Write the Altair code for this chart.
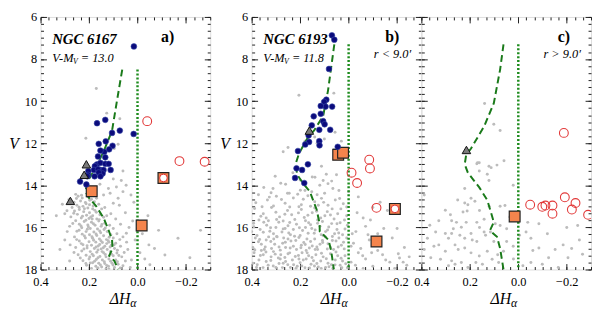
import altair as alt
import pandas as pd

FONT = "'Liberation Serif', 'Times New Roman', Times, serif"
W, H = 172, 256

X_DOMAIN = [-0.3, 0.4]
Y_DOMAIN = [6, 18]
X_LABELS = [0.4, 0.2, 0.0, -0.2]
Y_LABELS = [6, 8, 10, 12, 14, 16, 18]
X_MINOR = [round(-0.3 + i / 30, 4) for i in range(22)]
Y_MINOR = [round(6 + i / 3, 4) for i in range(37)]

# ---------------- Panel a (NGC 6167) ----------------
grey_a = [
    (0.17, 9.4), (0.127, 10.57), (0.073, 10.84), (0.096, 12.25), (0.213, 11.76), (0.08, 12.05),
    (0.06, 13.32), (0.1, 13.7), (0.067, 13.77), (0.047, 14.0), (0.087, 14.08), (0.12, 14.15),
    (0.06, 14.3), (0.113, 14.38), (0.14, 14.46), (0.027, 14.46), (0.08, 14.61), (0.155, 13.95),
    (0.245, 14.52), (0.228, 14.6), (0.205, 14.55), (0.19, 14.66), (0.235, 14.75), (0.262, 14.8),
    (0.215, 14.82), (0.178, 14.78), (0.198, 14.92), (0.25, 14.95), (0.225, 15.0), (0.16, 14.9),
    (0.27, 15.05), (0.205, 15.08), (0.185, 15.12), (0.24, 15.15), (0.135, 15.05), (0.1, 14.85),
    (0.075, 14.95), (0.26, 15.22), (0.222, 15.25), (0.198, 15.3), (0.17, 15.28), (0.248, 15.38),
    (0.21, 15.42), (0.185, 15.45), (0.155, 15.4), (0.275, 15.5), (0.232, 15.55), (0.2, 15.58),
    (0.168, 15.6), (0.14, 15.52), (0.11, 15.35), (0.09, 15.6), (0.3, 15.35), (0.05, 15.3),
    (0.255, 15.68), (0.22, 15.72), (0.19, 15.75), (0.16, 15.7), (0.135, 15.8), (0.24, 15.85),
    (0.205, 15.88), (0.175, 15.9), (0.15, 15.95), (0.115, 15.9), (0.28, 15.95), (0.23, 16.02),
    (0.195, 16.05), (0.165, 16.08), (0.138, 16.1), (0.1, 16.05), (0.07, 15.85), (0.035, 16.0),
    (0.25, 16.18), (0.212, 16.2), (0.18, 16.22), (0.152, 16.25), (0.125, 16.2), (0.228, 16.32),
    (0.198, 16.35), (0.168, 16.38), (0.14, 16.4), (0.11, 16.35), (0.085, 16.3), (0.26, 16.45),
    (0.215, 16.5), (0.185, 16.52), (0.157, 16.55), (0.128, 16.58), (0.1, 16.5), (0.06, 16.45),
    (0.3, 16.6), (0.24, 16.65), (0.2, 16.68), (0.172, 16.7), (0.145, 16.72), (0.118, 16.7),
    (0.09, 16.75), (0.225, 16.82), (0.19, 16.85), (0.162, 16.88), (0.135, 16.9), (0.108, 16.85),
    (0.255, 16.95), (0.208, 16.98), (0.178, 17.0), (0.15, 17.02), (0.125, 17.05), (0.095, 17.0),
    (0.07, 16.9), (0.04, 17.05), (0.23, 17.12), (0.195, 17.15), (0.168, 17.18), (0.14, 17.2),
    (0.112, 17.15), (0.085, 17.22), (0.245, 17.3), (0.212, 17.32), (0.182, 17.35), (0.155, 17.38),
    (0.13, 17.4), (0.1, 17.35), (0.065, 17.4), (0.2, 17.5), (0.17, 17.52), (0.145, 17.55),
    (0.118, 17.5), (0.09, 17.55), (0.225, 17.58), (0.05, 17.6), (0.185, 17.68), (0.16, 17.7),
    (0.135, 17.72), (0.105, 17.7), (0.08, 17.75), (0.21, 17.8), (0.172, 17.85), (0.148, 17.88),
    (0.12, 17.85), (0.095, 17.9), (0.06, 17.82), (0.19, 17.95), (0.13, 17.97), (0.03, 17.9),
    (0.32, 17.05), (0.29, 16.2), (0.335, 15.45), (0.31, 14.9), (0.28, 17.6), (-0.043, 15.45),
    (-0.087, 16.14), (-0.167, 16.52), (-0.26, 16.14), (-0.113, 17.31), (-0.216, 17.44),
    (-0.047, 16.83), (-0.051, 17.77), (0.01, 16.6), (-0.01, 17.2), (0.02, 15.7), (-0.02, 16.3),
    (0.015, 14.8), (-0.03, 17.5), (0.045, 16.7), (0.025, 17.55), (-0.07, 17.0),
    (0.231, 14.47), (0.197, 14.71), (0.252, 14.63), (0.183, 14.98), (0.219, 15.11), (0.263, 15.33),
    (0.176, 15.19), (0.241, 15.04), (0.193, 15.51), (0.227, 15.47), (0.158, 15.63), (0.267, 15.81),
    (0.213, 15.66), (0.182, 15.83), (0.147, 15.86), (0.241, 16.13), (0.203, 15.97), (0.171, 16.31),
    (0.133, 16.03), (0.219, 16.41), (0.188, 16.44), (0.151, 16.63), (0.117, 16.47), (0.232, 16.77),
    (0.181, 16.61), (0.156, 16.81), (0.127, 16.77), (0.208, 16.87), (0.171, 16.93), (0.141, 16.97),
    (0.113, 16.93), (0.083, 17.09), (0.221, 17.03), (0.187, 17.27), (0.163, 17.07), (0.133, 17.29),
    (0.107, 17.27), (0.077, 17.33), (0.197, 17.41), (0.163, 17.44), (0.137, 17.63), (0.111, 17.61),
    (0.083, 17.63), (0.213, 17.71), (0.177, 17.61), (0.153, 17.79), (0.127, 17.81), (0.101, 17.79),
    (0.071, 17.93), (0.163, 17.93), (0.233, 15.93), (0.251, 16.58), (0.278, 16.83), (0.262, 17.19),
    (0.236, 17.45), (0.291, 15.21), (0.148, 15.12), (0.127, 15.45), (0.121, 16.63), (0.097, 16.83),
    (0.146, 17.15), (0.195, 17.69), (0.055, 17.19), (0.046, 16.28), (0.073, 16.58), (0.212, 14.88),
    (0.169, 14.62), (0.283, 14.68), (0.255, 14.43), (0.207, 16.09), (0.156, 16.17), (0.187, 15.6),
    (0.118, 17.98),
]
blue_a = [
    (0.015, 7.4), (0.167, 11.05), (0.133, 10.89), (0.073, 11.4), (0.016, 11.56), (0.105, 11.51),
    (0.16, 12.03), (0.131, 11.91), (0.103, 12.12), (0.117, 12.29), (0.137, 12.41), (0.153, 12.35),
    (0.163, 12.63), (0.133, 12.67), (0.167, 13.01), (0.153, 12.93), (0.133, 12.98), (0.119, 12.98),
    (0.176, 13.09), (0.111, 13.27), (0.153, 13.27), (0.14, 13.27), (0.18, 13.27), (0.203, 13.32),
    (0.163, 13.24), (0.144, 13.44), (0.16, 13.39), (0.177, 13.57), (0.204, 13.5), (0.207, 13.57),
    (0.153, 13.57), (0.237, 13.82), (0.211, 13.96),
]
tri_a = [(0.211, 13.0), (0.22, 13.5), (0.277, 14.74)]
sq_a = [(0.189, 14.28), (-0.017, 15.91), (-0.107, 13.65)]
sqc_a = [(-0.107, 13.65)]
circ_a = [(-0.04, 10.95), (-0.173, 12.85), (-0.277, 12.88)]
line_a = [
    (0.063, 8.5), (0.085, 10.0), (0.105, 11.4), (0.14, 12.4), (0.17, 13.1), (0.205, 13.8),
    (0.215, 14.3), (0.2, 14.6), (0.17, 15.0), (0.14, 15.55), (0.12, 16.1), (0.105, 16.6),
    (0.103, 17.0), (0.117, 17.35), (0.095, 17.6), (0.08, 18.0),
]
dot_a = [(0.0, 8.5), (0.0, 18.0)]

# ---------------- Panel b (NGC 6193, r < 9') ----------------
grey_b = [
    (0.205, 9.72), (0.061, 9.62), (0.056, 11.48), (0.14, 11.7), (0.18, 11.9), (0.13, 12.0),
    (0.1, 11.8), (0.06, 12.3), (0.25, 12.2), (0.27, 12.4), (0.03, 11.9), (0.303, 13.57),
    (0.312, 14.15), (0.112, 13.09), (0.092, 13.47), (0.139, 13.62), (0.105, 13.77), (0.085, 13.92),
    (0.119, 14.0), (0.065, 14.15), (0.152, 14.3), (0.099, 14.38), (0.199, 14.23), (0.252, 14.38),
    (0.23, 13.4), (0.28, 13.9), (0.05, 13.5), (0.15, 13.6), (0.07, 13.8),
    (0.372, 14.45), (0.335, 14.7), (0.298, 14.52), (0.262, 14.85), (0.228, 14.6), (0.195, 14.92),
    (0.168, 14.5), (0.14, 14.78), (0.112, 14.62), (0.085, 14.95), (0.055, 14.7), (0.022, 14.88),
    (0.31, 14.98), (0.21, 14.42), (0.125, 14.95), (-0.04, 14.55), (-0.13, 14.8), (0.245, 14.38),
    (0.388, 15.1), (0.352, 15.35), (0.318, 15.05), (0.285, 15.5), (0.252, 15.2), (0.222, 15.62),
    (0.195, 15.15), (0.168, 15.42), (0.14, 15.08), (0.115, 15.55), (0.088, 15.25), (0.06, 15.6),
    (0.032, 15.12), (0.008, 15.45), (-0.035, 15.3), (-0.09, 15.65), (-0.16, 15.2), (0.37, 15.65),
    (0.3, 15.28), (0.235, 15.4), (0.178, 15.68), (0.15, 15.3), (0.098, 15.45), (0.045, 15.35),
    (0.27, 15.7), (0.205, 15.02), (0.128, 15.65), (0.34, 15.55),
    (0.392, 15.8), (0.365, 16.1), (0.338, 15.9), (0.31, 16.3), (0.288, 15.75), (0.262, 16.05),
    (0.24, 16.35), (0.215, 15.85), (0.19, 16.15), (0.165, 15.78), (0.142, 16.28), (0.118, 15.95),
    (0.095, 16.2), (0.07, 15.82), (0.048, 16.1), (0.025, 16.35), (0.005, 15.9), (-0.03, 16.2),
    (-0.07, 15.95), (-0.12, 16.3), (-0.2, 16.05), (0.378, 16.38), (0.325, 16.18), (0.275, 16.22),
    (0.25, 15.92), (0.2, 16.38), (0.178, 16.0), (0.152, 16.05), (0.105, 16.38), (0.082, 15.98),
    (0.058, 16.3), (0.35, 15.75), (0.228, 16.1), (0.128, 15.8), (0.035, 15.78), (0.3, 16.0),
    (-0.015, 16.3), (0.4, 16.2),
    (0.385, 16.5), (0.36, 16.8), (0.34, 16.6), (0.318, 17.0), (0.295, 16.45), (0.272, 16.75),
    (0.25, 16.55), (0.228, 16.9), (0.205, 16.48), (0.185, 16.72), (0.162, 16.98), (0.14, 16.55),
    (0.118, 16.8), (0.096, 16.45), (0.075, 16.95), (0.052, 16.65), (0.03, 16.85), (0.008, 16.5),
    (-0.02, 16.75), (-0.05, 17.0), (-0.085, 16.6), (-0.13, 16.85), (-0.18, 16.5), (-0.23, 16.95),
    (0.395, 16.95), (0.348, 17.05), (0.305, 16.8), (0.282, 17.08), (0.26, 16.95), (0.238, 16.65),
    (0.215, 17.05), (0.195, 16.85), (0.172, 16.55), (0.15, 16.88), (0.128, 17.05), (0.108, 16.62),
    (0.085, 16.78), (0.062, 17.05), (0.04, 16.5), (0.018, 17.02), (0.372, 16.68), (0.33, 16.45),
    (0.268, 16.5), (0.175, 17.1), (-0.01, 16.9),
    (0.39, 17.2), (0.37, 17.55), (0.352, 17.3), (0.332, 17.8), (0.31, 17.15), (0.29, 17.45),
    (0.27, 17.7), (0.25, 17.25), (0.232, 17.55), (0.212, 17.85), (0.192, 17.2), (0.175, 17.5),
    (0.155, 17.75), (0.135, 17.3), (0.115, 17.6), (0.095, 17.9), (0.075, 17.25), (0.055, 17.55),
    (0.035, 17.8), (0.015, 17.35), (-0.01, 17.65), (-0.04, 17.2), (-0.07, 17.5), (-0.1, 17.85),
    (-0.14, 17.3), (-0.17, 17.65), (-0.21, 17.45), (-0.24, 17.8), (0.38, 17.9), (0.36, 17.1),
    (0.34, 17.62), (0.32, 17.4), (0.3, 17.9), (0.28, 17.3), (0.26, 17.62), (0.24, 17.9),
    (0.22, 17.38), (0.2, 17.68), (0.18, 17.92), (0.165, 17.35), (0.145, 17.58), (0.125, 17.88),
    (0.105, 17.4), (0.085, 17.7), (0.065, 17.95), (0.045, 17.35), (0.025, 17.6), (0.005, 17.92),
    (0.395, 17.7), (0.282, 17.5), (0.205, 17.5), (0.138, 17.05), (-0.06, 17.95), (-0.12, 17.1),
    (-0.19, 17.95),
    (0.383, 14.83), (0.357, 15.02), (0.327, 14.56), (0.277, 14.67), (0.243, 15.03), (0.187, 14.66),
    (0.157, 14.99), (0.103, 14.81), (0.068, 15.12), (0.037, 14.63), (0.008, 15.03), (0.362, 15.47),
    (0.331, 15.68), (0.297, 15.62), (0.263, 15.37), (0.243, 15.77), (0.207, 15.31), (0.183, 15.53),
    (0.157, 15.87), (0.132, 15.23), (0.108, 15.72), (0.075, 15.41), (0.048, 15.83), (0.017, 15.65),
    (0.391, 15.97), (0.352, 16.23), (0.322, 16.02), (0.297, 16.43), (0.27, 16.07), (0.247, 16.27),
    (0.223, 16.42), (0.203, 16.02), (0.167, 16.28), (0.138, 16.12), (0.113, 16.35), (0.087, 16.12),
    (0.067, 16.43), (0.041, 16.27), (0.015, 16.08), (0.367, 16.57), (0.344, 16.93), (0.321, 16.67),
    (0.309, 16.55), (0.287, 16.93), (0.261, 16.71), (0.241, 16.98), (0.218, 16.62), (0.197, 16.97),
    (0.179, 16.81), (0.157, 16.67), (0.131, 16.93), (0.107, 16.72), (0.088, 17.03), (0.067, 16.62),
    (0.043, 16.93), (0.021, 16.71), (0.387, 17.07), (0.364, 17.33), (0.341, 17.17), (0.321, 17.57),
    (0.303, 17.27), (0.287, 17.71), (0.263, 17.43), (0.243, 17.21), (0.227, 17.77), (0.207, 17.33),
    (0.187, 17.55), (0.171, 17.21), (0.151, 17.43), (0.131, 17.71), (0.112, 17.23), (0.092, 17.49),
    (0.071, 17.77), (0.052, 17.17), (0.031, 17.47), (0.012, 17.73), (0.377, 17.77), (0.353, 17.91),
    (0.311, 17.83), (0.273, 17.91), (0.251, 17.77), (0.217, 17.95), (0.193, 17.83), (0.161, 17.93),
    (0.141, 17.83), (0.113, 17.95), (0.081, 17.87), (0.056, 17.78), (0.028, 17.92), (-0.028, 17.8),
    (-0.058, 17.35), (-0.095, 17.2), (-0.153, 17.55), (-0.205, 17.25), (-0.225, 17.65), (-0.08, 16.35),
    (-0.145, 16.05), (-0.06, 15.55), (-0.1, 15.05), (-0.25, 17.4), (0.32, 14.35), (0.18, 14.25),
    (0.26, 13.95), (0.13, 14.45), (0.04, 14.25), (0.35, 14.1), (0.2, 13.75), (0.0, 14.3),
]
blue_b = [
    (0.069, 6.87), (0.059, 7.08), (0.081, 8.47), (0.092, 9.93), (0.101, 10.03), (0.095, 10.26),
    (0.115, 10.23), (0.068, 10.26), (0.115, 10.6), (0.144, 10.72), (0.105, 10.95), (0.099, 11.1),
    (0.076, 11.36), (0.152, 11.15), (0.121, 11.36), (0.165, 11.63), (0.163, 11.94), (0.179, 12.06),
    (0.121, 11.9), (0.12, 12.1), (0.209, 12.37), (0.045, 12.17), (0.215, 13.19), (0.192, 13.27),
    (0.168, 13.0), (0.221, 13.65), (0.183, 13.89),
]
tri_b = [(0.162, 11.4)]
sq_b = [(0.043, 12.55), (0.023, 12.45), (-0.115, 16.67), (-0.191, 15.12)]
sqc_b = [(-0.191, 15.12)]
circ_b = [(-0.085, 12.78), (-0.088, 13.2), (-0.012, 13.4), (-0.035, 13.89), (-0.115, 15.07)]
line_b = [
    (0.059, 7.3), (0.085, 9.5), (0.105, 10.7), (0.14, 11.35), (0.172, 11.8), (0.205, 12.5),
    (0.219, 13.0), (0.212, 13.5), (0.185, 13.95), (0.16, 14.3), (0.132, 15.15), (0.12, 15.8),
    (0.119, 16.2), (0.1, 16.4), (0.083, 16.6), (0.072, 17.1), (0.061, 18.0),
]
dot_b = [(0.0, 7.3), (0.0, 18.0)]

# ---------------- Panel c (NGC 6193, r > 9') ----------------
grey_c = [
    (0.139, 10.11), (0.101, 11.1), (0.075, 11.4), (0.168, 12.93), (0.059, 12.83), (0.088, 13.04),
    (0.112, 13.16), (0.128, 13.47), (0.161, 12.93), (0.171, 12.98), (0.121, 13.09), (0.161, 13.32),
    (0.121, 13.77), (0.195, 14.61), (0.221, 14.15), (0.021, 14.0), (0.388, 14.46), (0.221, 14.84),
    (0.208, 14.92), (0.179, 14.76), (0.228, 15.27), (0.211, 15.22), (0.301, 15.18), (0.255, 15.76),
    (0.328, 15.68), (0.171, 15.76), (0.141, 15.61), (0.055, 14.96), (0.075, 14.99), (0.275, 16.29),
    (0.241, 16.37), (0.221, 16.52), (0.288, 16.52), (0.195, 16.29), (0.171, 16.67), (0.141, 16.22),
    (0.348, 16.9), (0.261, 16.83), (0.248, 17.05), (0.221, 16.98), (0.195, 17.21), (0.161, 17.36),
    (0.128, 17.13), (0.361, 17.44), (0.321, 17.51), (0.275, 17.59), (0.235, 17.67), (0.208, 17.9),
    (0.108, 17.51), (0.081, 17.67), (0.048, 16.67), (0.021, 16.9), (-0.005, 16.37), (-0.032, 16.22),
    (-0.052, 16.52), (-0.085, 16.98), (-0.085, 15.83), (-0.125, 17.44), (-0.152, 17.05),
    (-0.185, 16.83), (-0.245, 15.91), (-0.252, 16.6), (-0.265, 17.28), (-0.205, 17.44),
    (-0.165, 17.9), (-0.099, 17.75), (-0.052, 17.67), (-0.019, 17.82), (-0.039, 15.76),
    (0.048, 16.06), (0.075, 15.91), (0.115, 16.22), (0.101, 16.67), (0.061, 17.13), (0.095, 15.83),
    (0.135, 16.37), (0.215, 15.76), (0.235, 15.99), (0.275, 15.68), (0.268, 16.06), (0.301, 16.29),
    (0.341, 16.22), (0.375, 16.52), (0.388, 17.05), (0.301, 17.13), (0.328, 16.83), (0.175, 17.67),
    (0.148, 17.75), (0.261, 17.75), (0.288, 17.82), (0.25, 14.7), (0.28, 15.4), (0.16, 15.2),
    (0.12, 15.0), (0.035, 15.5), (-0.12, 16.3), (-0.2, 16.0), (-0.06, 17.1), (0.16, 16.0),
    (0.02, 17.5), (0.365, 15.9), (0.19, 16.6), (0.085, 17.3), (-0.22, 17.0),
]
blue_c = []
tri_c = [(0.214, 12.32)]
sq_c = [(0.015, 15.48)]
sqc_c = []
circ_c = [
    (-0.049, 14.92), (-0.099, 15.02), (-0.112, 14.96), (-0.141, 14.96), (-0.141, 15.35),
    (-0.192, 14.57), (-0.221, 15.15), (-0.236, 14.84), (-0.288, 15.4), (-0.188, 11.51),
]
line_c = [
    (0.061, 7.3), (0.075, 8.5), (0.101, 10.1), (0.141, 11.2), (0.195, 12.25), (0.215, 12.55),
    (0.221, 13.0), (0.208, 13.4), (0.161, 14.1), (0.128, 14.7), (0.115, 15.2), (0.101, 15.75),
    (0.117, 16.15), (0.088, 16.45), (0.075, 17.0), (0.061, 18.0),
]
dot_c = [(0.0, 7.3), (0.0, 18.0)]

# annotation text
TITLES = ["NGC 6167", "NGC 6193", ""]
DISTS = ["13.0", "11.8", ""]
LABELS = ["a)", "b)", "c)"]
LABEL_X = [-0.124, -0.18, -0.188]
RLABELS = ["", "r <  9.0\u2032", "r >  9.0\u2032"]


def df(pairs):
    return pd.DataFrame(pairs, columns=["x", "y"]) if pairs else pd.DataFrame({"x": [], "y": []})


def ldf(pairs):
    d = df(pairs)
    d["i"] = list(range(len(d)))
    return d


def axis(orient, values, size, labels=False, title=None, fmt=None):
    kw = dict(orient=orient, values=values, tickSize=size, offset=-size, domain=False,
              grid=False, labels=labels, ticks=True, tickColor="#222", tickWidth=1)
    if labels:
        kw.update(labelFont=FONT, labelFontSize=12.5, labelColor="black",
                  labelPadding=6 if orient in ("bottom", "top") else 4,
                  labelFlush=False, labelOverlap=False, format=fmt)
    if title:
        kw.update(title=title, titleAngle=0, titleFont=FONT, titleFontSize=16,
                  titleFontStyle="italic", titleFontWeight="normal", titleColor="black",
                  titlePadding=6, titleBaseline="middle", titleAlign="right")
    else:
        kw["title"] = None
    return alt.Axis(**kw)


xs = alt.Scale(domain=X_DOMAIN, reverse=True, nice=False, zero=False)
ys = alt.Scale(domain=Y_DOMAIN, reverse=True, nice=False, zero=False)


def XY(xa, ya):
    return dict(x=alt.X("x:Q", scale=xs, axis=xa), y=alt.Y("y:Q", scale=ys, axis=ya))


def panel(k, grey, blue, tri, sq, sqc, circ, line, dot, ylabels):
    layers = []
    layers.append(alt.Chart(df(grey)).mark_circle(size=9, color="#bcbcbc", opacity=1, clip=True).encode(
        **XY(axis("bottom", X_LABELS, 6, True, fmt=".1f"),
             axis("left", Y_LABELS, 6, ylabels, "V" if ylabels else None, fmt="d"))))
    layers.append(alt.Chart(ldf(dot)).mark_line(color="#1e8c1e", strokeWidth=2.5, strokeDash=[2, 2], clip=True).encode(
        order="i:Q", **XY(axis("bottom", X_MINOR, 3), axis("left", Y_MINOR, 3))))
    layers.append(alt.Chart(ldf(line)).mark_line(color="#1a7a1a", strokeWidth=2, strokeDash=[7, 4], clip=True).encode(
        order="i:Q", **XY(axis("top", X_LABELS, 6), axis("right", Y_LABELS, 6))))
    layers.append(alt.Chart(df(sq)).mark_square(size=120, color="#f4844c", opacity=1, stroke="#222", strokeWidth=1.2, clip=True).encode(
        **XY(axis("top", X_MINOR, 3), axis("right", Y_MINOR, 3))))
    if blue:
        layers.append(alt.Chart(df(blue)).mark_circle(size=34, color="#0b0b7c", opacity=1, stroke="#3a4aa8", strokeWidth=0.6, clip=True).encode(
            **XY(None, None)))
    if tri:
        layers.append(alt.Chart(df(tri)).mark_point(shape="triangle-up", size=75, filled=True, fill="#7a7a7a", opacity=1, stroke="#111", strokeWidth=1, clip=True).encode(
            **XY(None, None)))
    if sqc:
        layers.append(alt.Chart(df(sqc)).mark_point(shape="circle", size=60, filled=True, fill="white", opacity=1, stroke="#e03030", strokeWidth=1, clip=True).encode(
            **XY(None, None)))
    layers.append(alt.Chart(df(circ)).mark_point(shape="circle", size=80, filled=False, color="#e23a3a", strokeWidth=1.1, opacity=1, clip=True).encode(
        **XY(None, None)))

    # annotations (data coordinates)
    if TITLES[k]:
        layers.append(alt.Chart(pd.DataFrame({"x": [0.352], "y": [7.05], "t": [TITLES[k]]})).mark_text(
            align="left", baseline="middle", font=FONT, fontSize=15, fontStyle="italic", fontWeight="bold", color="black").encode(
            text="t:N", **XY(None, None)))
        ddf = pd.DataFrame({"x": [0.352], "y": [7.97]})
        layers.append(alt.Chart(ddf).mark_text(text="V-M", align="left", baseline="middle", font=FONT, fontSize=12.5,
                                               fontStyle="italic", color="black").encode(**XY(None, None)))
        layers.append(alt.Chart(ddf).mark_text(text="V", align="left", baseline="middle", font=FONT, fontSize=8,
                                               fontStyle="italic", color="black", dx=21, dy=4).encode(**XY(None, None)))
        layers.append(alt.Chart(ddf).mark_text(text="= " + DISTS[k], align="left", baseline="middle", font=FONT, fontSize=12.5,
                                               fontStyle="italic", color="black", dx=29).encode(**XY(None, None)))
    layers.append(alt.Chart(pd.DataFrame({"x": [LABEL_X[k]], "y": [6.95], "t": [LABELS[k]]})).mark_text(
        align="center", baseline="middle", font=FONT, fontSize=16, fontWeight="bold", color="black").encode(
        text="t:N", **XY(None, None)))
    if RLABELS[k]:
        layers.append(alt.Chart(pd.DataFrame({"x": [-0.258], "y": [7.75], "t": [RLABELS[k]]})).mark_text(
            align="right", baseline="middle", font=FONT, fontSize=12.5, fontStyle="italic", color="black").encode(
            text="t:N", **XY(None, None)))

    # x-axis title with subscript
    one = pd.DataFrame({"v": [0]})
    layers.append(alt.Chart(one).mark_text(text="\u0394H", align="right", baseline="alphabetic", font=FONT, fontSize=16,
                                           fontStyle="italic", color="black").encode(
        x=alt.value(W / 2 + 5), y=alt.value(H + 35)))
    layers.append(alt.Chart(one).mark_text(text="\u03b1", align="left", baseline="alphabetic", font=FONT, fontSize=12,
                                           fontStyle="italic", color="black").encode(
        x=alt.value(W / 2 + 5), y=alt.value(H + 38)))

    return alt.layer(*layers).properties(width=W, height=H).resolve_axis(x="independent", y="independent")


pa = panel(0, grey_a, blue_a, tri_a, sq_a, sqc_a, circ_a, line_a, dot_a, True)
pb = panel(1, grey_b, blue_b, tri_b, sq_b, sqc_b, circ_b, line_b, dot_b, True)
pc = panel(2, grey_c, blue_c, tri_c, sq_c, sqc_c, circ_c, line_c, dot_c, False)

right = alt.hconcat(pb, pc, spacing=0, bounds="flush")
chart = alt.hconcat(pa, right, spacing=42, bounds="flush").properties(
    padding={"left": 0, "top": 0, "right": 0, "bottom": 0}
).configure_view(stroke="#222", strokeWidth=1).configure(font=FONT)

chart.save("out.html", embed_options={"renderer": "svg", "actions": False})
